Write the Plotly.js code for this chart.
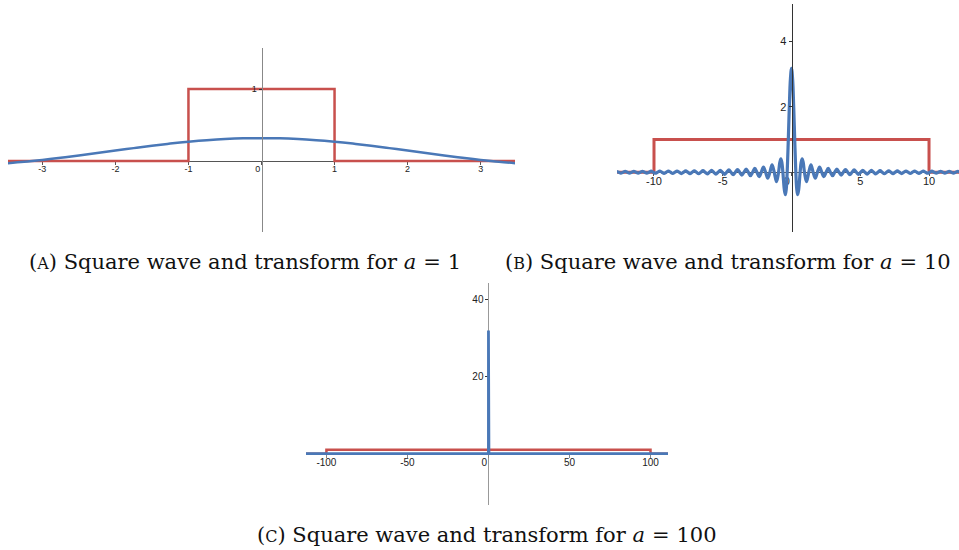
<!DOCTYPE html>
<html>
<head>
<meta charset="utf-8">
<script src="https://cdn.plot.ly/plotly-3.0.1.min.js"></script>
<style>
  html, body { margin: 0; padding: 0; background: #fff; }
  #chart { width: 959px; height: 550px; }
</style>
</head>
<body>
<div id="chart"></div>
<script>
// ---- Panel A: a = 1 ----
const sqA_x = [-3.47, -1, -1, 1, 1, 3.47];
const sqA_y = [0, 0, 1, 1, 0, 0];
const trA_x = [-3.5, -3.25, -3.0, -2.75, -2.5, -2.25, -2.0, -1.75, -1.5, -1.25, -1.0, -0.75, -0.5, -0.25,
               0, 0.25, 0.5, 0.75, 1.0, 1.25, 1.5, 1.75, 2.0, 2.25, 2.5, 2.75, 3.0, 3.25, 3.5];
const trA_y = [-0.032, -0.011, 0.015, 0.044, 0.076, 0.110, 0.145, 0.179, 0.212, 0.242, 0.268, 0.289, 0.305, 0.315,
               0.318, 0.315, 0.305, 0.289, 0.268, 0.242, 0.212, 0.179, 0.145, 0.110, 0.076, 0.044, 0.015, -0.011, -0.032];
const ticksA_x = [-3, -2, -1, 0, 1, 2, 3];
const ticksA_y = [1];

// ---- Panel B: a = 10 ----
const sqB_x = [-12.69, -10, -10, 10, 10, 12.18];
const sqB_y = [0, 0, 1, 1, 0, 0];
// transform: zero crossings and lobe extremes, right half listed outward from the origin
const trB_xr = [0, 0.08, 0.16, 0.24, 0.314, 0.38, 0.449, 0.52, 0.628, 0.70, 0.773, 0.85, 0.942, 1.090, 1.257,
  1.414, 1.571, 1.728, 1.885, 2.042, 2.199, 2.356, 2.513, 2.670, 2.827, 2.985, 3.142, 3.299, 3.456,
  3.613, 3.770, 3.927, 4.084, 4.241, 4.398, 4.555, 4.712, 4.869, 5.027, 5.184, 5.341, 5.498, 5.655,
  5.812, 5.969, 6.126, 6.283, 6.440, 6.597, 6.754, 6.912, 7.069, 7.226, 7.383, 7.540, 7.697, 7.854,
  8.011, 8.168, 8.325, 8.482, 8.639, 8.796, 8.954, 9.111, 9.268, 9.425, 9.582, 9.739, 9.896, 10.053,
  10.21, 10.367, 10.524, 10.681, 10.838, 10.996, 11.152, 11.310, 11.467, 11.624, 11.781, 11.938,
  12.095, 12.252, 12.409, 12.566, 12.723];
const trB_yr = [3.18, 2.85, 1.99, 0.90, 0, -0.51, -0.69, -0.54, 0, 0.30, 0.41, 0.30, 0, -0.29, 0,
  0.225, 0, -0.184, 0, 0.156, 0, -0.135, 0, 0.119, 0, -0.107, 0, 0.097, 0,
  -0.088, 0, 0.081, 0, -0.075, 0, 0.070, 0, -0.065, 0, 0.061, 0, -0.058, 0,
  0.055, 0, -0.052, 0, 0.049, 0, -0.047, 0, 0.045, 0, -0.043, 0, 0.041, 0,
  -0.040, 0, 0.038, 0, -0.037, 0, 0.036, 0, -0.034, 0, 0.033, 0, -0.032, 0,
  0.031, 0, -0.030, 0, 0.029, 0, -0.029, 0, 0.028, 0, -0.027, 0,
  0.026, 0, -0.026, 0, 0.025];
const ticksB_x = [-10, -5, 0, 5, 10];
const ticksB_y = [2, 4];

// ---- Panel C: a = 100 ----
const sqC_x = [-112.6, -100, -100, 100, 100, 110.8];
const sqC_y = [0, 0, 1, 1, 0, 0];
const trC_x = [-112.6, -1.0, -0.3, -0.02, 0, 0.02, 0.3, 1.0, 110.8];
const trC_y = [0, 0, 0, 0, 31.9, 0, 0, 0, 0];
const ticksC_x = [-100, -50, 0, 50, 100];
const ticksC_y = [20, 40];

const captions = [
  'A', 'Square wave and transform for', '1',
  'B', 'Square wave and transform for', '10',
  'C', 'Square wave and transform for', '100'
];

const RED = '#c8504d';
const BLUE = '#4a78b7';

// mirror the right half into a full symmetric curve
const trB_x = trB_xr.slice(1).map(v => -v).reverse().concat(trB_xr);
const trB_y = trB_yr.slice(1).reverse().concat(trB_yr);

const W = 959, H = 550;
const px = v => v / W;
const py = v => 1 - v / H;

const panels = [
  { xd: [px(8), px(515)], yd: [py(232), py(48)], xr: [-3.47, 3.47], yr: [-0.986, 1.57],
    xt: ticksA_x, yt: ticksA_y, fs: 9, xcol: '#555', ycol: '#888' },
  { xd: [px(617), 1], yd: [py(232), py(4)], xr: [-12.69, 12.18], yr: [-1.83, 5.15],
    xt: ticksB_x, yt: ticksB_y, fs: 11, xcol: '#555', ycol: '#333' },
  { xd: [px(306), px(668)], yd: [py(505), py(283)], xr: [-112.6, 110.8], yr: [-13.3, 44.2],
    xt: ticksC_x, yt: ticksC_y, fs: 10, xcol: '#888', ycol: '#999' }
];

function zeroPos(dom, rng) {
  return dom[0] + (0 - rng[0]) / (rng[1] - rng[0]) * (dom[1] - dom[0]);
}

const layout = {
  width: W, height: H,
  margin: { l: 0, r: 0, t: 0, b: 0 },
  paper_bgcolor: '#fff', plot_bgcolor: 'rgba(0,0,0,0)',
  showlegend: false,
  font: { family: 'Liberation Sans, Arial, sans-serif', color: '#222' },
  annotations: []
};

panels.forEach((p, i) => {
  const n = i === 0 ? '' : String(i + 1);
  layout['xaxis' + n] = {
    domain: p.xd, range: p.xr, anchor: 'free', position: zeroPos(p.yd, p.yr),
    showgrid: false, zeroline: false, showline: true, linecolor: p.xcol, linewidth: 1,
    ticks: 'outside', ticklen: 3, tickcolor: p.xcol, tickwidth: 1,
    ticklabelstandoff: -4,
    tickmode: 'array', tickvals: p.xt,
    ticktext: p.xt.map(v => v === 0 ? '0\u00A0\u00A0\u00A0' : String(v)),
    tickfont: { size: p.fs, color: '#222' },
    layer: 'below traces', fixedrange: true
  };
  layout['yaxis' + n] = {
    domain: p.yd, range: p.yr, anchor: 'free', position: zeroPos(p.xd, p.xr),
    showgrid: false, zeroline: false, showline: true, linecolor: p.ycol, linewidth: 1,
    ticks: 'outside', ticklen: 3, tickcolor: '#333', tickwidth: 1,
    tickmode: 'array', tickvals: p.yt, ticktext: p.yt.map(String),
    tickfont: { size: p.fs, color: '#222' },
    layer: i === 2 ? 'below traces' : 'above traces', fixedrange: true
  };
});

const capPos = [[245, 262], [728, 262], [487, 535]];
for (let k = 0; k < 3; k++) {
  const [letter, body, val] = captions.slice(3 * k, 3 * k + 3);
  layout.annotations.push({
    xref: 'paper', yref: 'paper', x: px(capPos[k][0]), y: py(capPos[k][1]),
    xanchor: 'center', yanchor: 'middle', showarrow: false,
    text: '(<span style="font-size:16px">' + letter + '</span>) ' + body +
          ' <i>a</i>\u2004=\u2004' + val,
    font: { family: 'DejaVu Serif, serif', size: 21, color: '#111' }
  });
}

const traces = [
  { x: sqA_x, y: sqA_y, xaxis: 'x', yaxis: 'y', mode: 'lines', line: { color: RED, width: 2.5 } },
  { x: trA_x, y: trA_y, xaxis: 'x', yaxis: 'y', mode: 'lines', line: { color: BLUE, width: 2.5, shape: 'spline' } },
  { x: sqB_x, y: sqB_y, xaxis: 'x2', yaxis: 'y2', mode: 'lines', line: { color: RED, width: 3 } },
  { x: trB_x, y: trB_y, xaxis: 'x2', yaxis: 'y2', mode: 'lines', line: { color: BLUE, width: 3.2, shape: 'spline' } },
  { x: sqC_x, y: sqC_y, xaxis: 'x3', yaxis: 'y3', mode: 'lines', line: { color: RED, width: 2.5 } },
  { x: trC_x, y: trC_y, xaxis: 'x3', yaxis: 'y3', mode: 'lines', line: { color: BLUE, width: 2.8 } }
];

Plotly.newPlot('chart', traces, layout, { staticPlot: true, displayModeBar: false });
</script>
</body>
</html>
